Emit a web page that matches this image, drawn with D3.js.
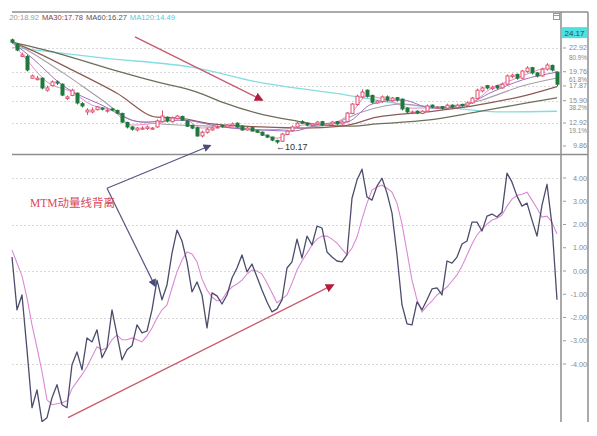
<!DOCTYPE html>
<html>
<head>
<meta charset="utf-8">
<script src="https://cdn.jsdelivr.net/npm/d3@7"></script>
<style>
  body { margin: 0; background: #fff; }
  svg { display: block; }
</style>
</head>
<body>
<script>
'use strict';

// ---- data ----
// daily candles, index 0..109
const openP  = [24.0,23.4,21.8,21.8,18.9,18.7,18.9,17.3,17.9,18.4, 18.1,16.2,16.6,16.9,15.5,14.4,14.4,14.7,14.9,14.5,
                14.8,14.6,14.2,13.0,12.4,12.0,12.1,12.2,12.1,12.4, 13.1,13.7,13.1,13.5,13.8,13.2,12.6,12.3,11.2,11.7,
                12.0,12.3,12.6,12.4,12.6,12.9,12.5,12.0,12.3,11.9, 11.7,11.3,11.05,10.6,10.5,11.4,11.9,12.4,13.1,12.9,
                12.6,12.8,13.1,12.6,12.8,13.1,12.8,13.1,14.2,15.4, 16.4,17.3,16.6,15.6,15.8,16.4,15.9,16.3,16.1,14.9,
                14.3,14.5,14.2,14.5,15.3,15.0,15.1,14.9,15.3,15.0, 15.4,15.3,15.6,16.2,17.2,17.9,17.5,17.9,17.6,18.1,
                19.1,19.4,18.9,19.8,20.3,19.6,19.2,20.1,20.6,19.7];
const closeP = [23.7,22.65,22.0,20.0,19.2,18.9,17.6,17.6,18.4,18.25, 16.65,16.4,17.3,15.6,15.2,14.65,14.65,15.05,14.8,14.65,
                14.65,14.25,13.05,12.4,12.1,12.25,12.25,12.4,12.25,13.2, 13.85,13.2,13.6,13.85,13.3,12.5,12.25,11.2,11.7,12.1,
                12.25,12.4,12.5,12.65,12.8,12.4,12.0,12.25,11.85,11.7, 11.3,11.05,10.65,10.4,11.45,11.85,12.4,12.9,12.9,12.65,
                12.8,13.05,12.65,12.8,13.05,12.8,13.05,14.25,15.45,16.5, 17.05,16.5,15.7,15.85,16.4,16.0,16.25,16.0,14.8,14.4,
                14.4,14.25,14.5,15.2,15.05,15.05,14.9,15.3,15.05,15.3, 15.3,15.6,16.25,17.3,17.6,17.6,17.7,17.6,18.1,19.2,
                19.3,18.9,19.85,20.25,19.6,19.2,20.1,20.65,20.0,18.1];
const highP  = [24.17,23.6,22.3,22.0,19.4,19.2,19.0,17.9,18.6,18.6, 18.2,16.6,17.5,17.0,15.7,14.9,15.0,15.2,15.0,14.9,
                14.9,14.7,14.3,13.1,12.5,12.4,12.5,12.6,12.4,13.4, 14.6,13.8,13.8,14.0,13.9,13.3,12.7,12.4,11.9,12.3,
                12.4,12.6,12.7,12.8,13.0,13.0,12.6,12.4,12.4,12.0, 11.8,11.4,11.1,10.7,11.6,12.0,12.6,13.1,13.3,13.0,
                12.9,13.2,13.2,12.9,13.2,13.2,13.2,14.4,15.6,16.7, 17.4,17.4,16.7,16.0,16.6,16.6,16.4,16.4,16.2,15.0,
                14.6,14.6,14.6,15.4,15.4,15.2,15.2,15.5,15.4,15.5, 15.5,15.8,16.4,17.5,17.8,18.0,17.9,18.0,18.3,19.4,
                19.5,19.5,20.0,20.5,20.4,19.7,20.3,20.9,20.7,19.8];
const lowP   = [23.5,22.5,21.7,19.8,18.8,18.6,17.4,17.1,17.8,18.0, 16.5,16.0,16.5,15.4,15.0,14.0,14.2,14.6,14.6,14.3,
                14.5,14.1,12.9,12.2,11.9,11.8,12.0,12.0,12.0,12.3, 13.0,13.0,13.0,13.4,13.2,12.4,12.1,11.1,11.0,11.5,
                11.9,12.2,12.3,12.3,12.5,12.3,11.9,11.9,11.8,11.6, 11.2,10.9,10.5,10.17,10.4,11.3,11.8,12.3,12.8,12.5,
                12.5,12.7,12.5,12.5,12.7,12.7,12.7,13.0,14.1,15.2, 16.2,16.3,15.5,15.5,15.6,15.8,15.8,15.8,14.6,14.2,
                14.1,14.1,14.1,14.4,14.9,14.8,14.7,14.8,14.9,14.9, 15.1,15.2,15.5,16.1,17.0,17.4,17.3,17.4,17.5,18.0,
                18.9,18.7,18.8,19.6,19.4,19.0,19.1,19.9,19.8,17.8];

// moving averages, sampled [day, price]
const ma5   = [[0,23.7],[3,21.3],[7,18.4],[12,17.05],[16,15.3],[20,14.65],[24,12.65],[30,13.05],[34,13.6],[38,12.25],
               [42,12.5],[48,12.0],[53,10.9],[58,12.65],[64,12.9],[68,14.4],[71,16.5],[75,16.0],[80,14.9],[86,15.05],
               [92,15.7],[96,17.6],[100,18.65],[104,19.7],[107,20.25],[109,19.7]];
const ma10  = [[0,23.7],[4,21.6],[10,18.0],[18,15.3],[26,13.05],[34,13.3],[42,12.4],[50,12.0],[56,11.85],[62,12.8],
               [67,13.05],[72,15.45],[78,16.0],[84,14.9],[90,15.2],[96,17.05],[102,18.65],[109,19.7]];
const ma20  = [[0,23.7],[3,22.65],[10,19.7],[18,16.0],[24,13.3],[30,12.8],[40,12.5],[50,12.0],[57,12.25],[64,12.8],
               [70,14.4],[78,15.45],[86,14.9],[94,16.0],[102,17.85],[109,18.92]];
const ma30  = [[0,23.7],[3,22.9],[12,20.0],[21,16.9],[29,13.7],[33,13.6],[40,12.8],[50,12.4],[58,12.25],[66,12.5],
               [73,13.7],[83,14.4],[93,15.3],[103,16.65],[109,17.78]];
const ma60  = [[0,23.7],[9,22.25],[19,20.25],[29,18.4],[37,17.05],[42,15.7],[49,14.25],[56,13.3],[62,12.65],[68,12.5],
               [73,12.8],[83,13.3],[93,14.4],[103,15.6],[109,16.27]];
const ma120 = [[0,23.0],[18,21.6],[37,20.25],[49,18.4],[67,16.65],[78,15.45],[88,14.9],[98,14.4],[109,14.49]];

const maNames  = ['MA20', 'MA30', 'MA60', 'MA120'];
const maLast   = ['18.92', '17.78', '16.27', '14.49'];

// MTM and its average, one value per day
const mtm = [0.60,-1.67,-1.03,-3.39,-5.88,-5.11,-6.48,-6.31,-5.45,-4.89, -5.75,-5.88,-4.03,-3.48,-4.25,-2.88,-3.05,-2.53,-3.73,-3.30,
             -1.67,-2.75,-3.82,-3.39,-3.22,-2.32,-2.66,-2.58,-1.67,-0.39, -1.24,-0.60,0.77,1.76,1.29,0.39,-0.90,-0.47,-1.03,-2.45,
             -0.94,-1.07,-1.42,-1.03,-0.30,0.13,0.69,-0.04,0.30,-0.26, -0.82,-1.33,-1.76,-1.63,-1.24,0.13,0.39,1.37,0.56,1.50,
             1.12,1.93,1.85,0.82,0.60,0.43,0.39,0.69,3.13,3.91, 4.38,3.18,3.05,3.65,3.99,3.35,2.49,0.69,-1.46,-2.27,
             -2.32,-1.33,-1.67,-1.24,-0.77,-0.73,-1.03,0.43,0.34,0.60, 1.16,1.29,2.10,2.10,1.72,2.36,2.45,2.32,2.53,4.21,
             3.82,3.22,2.79,2.92,2.19,1.50,2.83,3.73,1.97,-1.24];
const mamtm = [0.90,0.34,-0.21,-1.16,-2.32,-3.30,-4.33,-5.54,-5.75,-5.71, -5.67,-5.58,-5.06,-4.76,-4.46,-4.12,-3.69,-3.26,-3.39,-3.30,
               -2.96,-2.75,-2.96,-2.96,-2.88,-2.96,-3.05,-2.79,-2.45,-2.02, -1.67,-1.46,-0.73,-0.04,0.47,0.82,0.73,0.39,-0.34,-0.82,
               -1.12,-1.29,-1.24,-0.90,-0.69,-0.56,-0.39,-0.13,0.04,0.00, -0.13,-0.52,-0.94,-1.37,-1.20,-1.03,-0.52,0.04,0.43,0.77,
               1.12,1.37,1.50,1.50,1.37,1.20,0.94,0.69,0.99,1.46, 2.23,2.92,3.48,3.61,3.69,3.56,3.39,2.92,2.02,0.82,
               -0.39,-1.24,-1.76,-1.50,-1.29,-1.03,-0.86,-0.69,-0.43,-0.17, 0.21,0.69,1.16,1.55,1.80,2.02,2.19,2.27,2.40,2.79,
               3.09,3.26,3.30,3.39,3.05,2.70,2.32,2.36,2.10,1.59];

// axis labels
const priceTicks = [22.92, 19.76, 17.87, 15.90, 12.92, 9.86];
const priceGrid  = [22.92, 19.76, 17.87, 15.90, 12.92];
const fibLabels  = ['80.9%', '61.8%', '38.2%', '19.1%'];
const fibLevels  = [21.7, 18.8, 15.05, 12.0];
const topPrice   = 24.17;
const lowPrice   = 10.17;
const mtmTicks   = [4, 3, 2, 1, 0, -1, -2, -3, -4];
const mtmGrid    = [4, 2, 0, -2, -4];
const noteText   = 'MTM动量线背离';

(function() {
  const W = 597, H = 436;
  const plotL = 10, plotR = 561, axisR = 588;
  const topT = 12, topB = 154.5, botB = 422;
  const axisFont = '"Liberation Sans", Arial, sans-serif';

  const svg = d3.select('body').append('svg')
    .attr('width', W).attr('height', H);

  const x = d3.scaleLinear().domain([0, closeP.length - 1]).range([12, 557]);
  const yP = d3.scaleLinear().domain([9.86, 22.92]).range([146, 48]);
  const yM = d3.scaleLinear().domain([-4, 4]).range([364, 178]);

  const defs = svg.append('defs');
  defs.append('clipPath').attr('id', 'clipTop').append('rect')
    .attr('x', plotL).attr('y', topT).attr('width', plotR - plotL).attr('height', topB - topT);
  defs.append('clipPath').attr('id', 'clipBot').append('rect')
    .attr('x', plotL).attr('y', topB).attr('width', plotR - plotL).attr('height', botB - topB);
  defs.append('clipPath').attr('id', 'clipLeg').append('rect')
    .attr('x', 9).attr('y', 0).attr('width', 540).attr('height', 30);

  // arrow heads
  function marker(id, color, size) {
    defs.append('marker')
      .attr('id', id)
      .attr('viewBox', '0 0 10 10')
      .attr('refX', 8).attr('refY', 5)
      .attr('markerWidth', size).attr('markerHeight', size)
      .attr('markerUnits', 'userSpaceOnUse')
      .attr('orient', 'auto')
      .append('path').attr('d', 'M0,0L10,5L0,10z').attr('fill', color);
  }
  marker('arrRed', '#b0203c', 9);
  marker('arrNavy', '#4a4c7a', 8);

  // grid lines
  const grid = svg.append('g')
    .attr('stroke', '#d8d8d8').attr('stroke-width', 1).attr('stroke-dasharray', '2,2');
  priceGrid.forEach(v => {
    grid.append('line').attr('x1', 12).attr('x2', plotR)
      .attr('y1', Math.round(yP(v)) + 0.5).attr('y2', Math.round(yP(v)) + 0.5);
  });
  mtmGrid.forEach(v => {
    grid.append('line').attr('x1', 12).attr('x2', plotR)
      .attr('y1', Math.round(yM(v)) + 0.5).attr('y2', Math.round(yM(v)) + 0.5);
  });

  // moving averages in the price panel
  const top = svg.append('g').attr('clip-path', 'url(#clipTop)');
  const maLine = d3.line()
    .x(d => x(d[0]))
    .y(d => yP(d[1]))
    .curve(d3.curveMonotoneX);
  [
    [ma120, '#86dde0', 1.3],
    [ma60, '#6d6f58', 1.3],
    [ma30, '#8e5a52', 1.2],
    [ma20, '#a4a0a4', 1.1],
    [ma10, '#a46cc8', 1],
    [ma5, '#e58cc6', 1]
  ].forEach(([pts, col, w]) => {
    top.append('path').datum(pts)
      .attr('d', maLine)
      .attr('fill', 'none')
      .attr('stroke', col)
      .attr('stroke-width', w);
  });

  // candles
  closeP.forEach((c, i) => {
    const o = openP[i];
    const up = c >= o;
    const col = up ? '#e0506e' : '#1e7a3c';
    const cx = Math.round(x(i)) + 0.5;
    top.append('line')
      .attr('x1', cx).attr('x2', cx)
      .attr('y1', yP(highP[i])).attr('y2', yP(lowP[i]))
      .attr('stroke', col).attr('stroke-width', 1);
    const yTop = yP(Math.max(o, c));
    const hgt = Math.max(1, Math.abs(yP(o) - yP(c)));
    top.append('rect')
      .attr('x', cx - 1.5).attr('y', yTop)
      .attr('width', 3).attr('height', hgt)
      .attr('fill', up ? '#fff' : col)
      .attr('stroke', col).attr('stroke-width', 1);
  });

  // MTM panel
  const bot = svg.append('g').attr('clip-path', 'url(#clipBot)');
  const mLine = d3.line().x((d, i) => x(i)).y(d => yM(d));
  bot.append('path').datum(mamtm)
    .attr('d', mLine).attr('fill', 'none')
    .attr('stroke', '#d98ad4').attr('stroke-width', 1.1);
  bot.append('path').datum(mtm)
    .attr('d', mLine).attr('fill', 'none')
    .attr('stroke', '#4b4d6c').attr('stroke-width', 1.3)
    .attr('stroke-linejoin', 'round');

  // frame
  const frame = svg.append('g').attr('stroke', '#8e8e8e').attr('stroke-width', 1.5).attr('fill', 'none');
  frame.append('line').attr('x1', 12).attr('x2', axisR).attr('y1', topT).attr('y2', topT);
  frame.append('line').attr('x1', 12).attr('x2', axisR).attr('y1', topB).attr('y2', topB);
  frame.append('line').attr('x1', plotR).attr('x2', plotR).attr('y1', topT).attr('y2', botB);
  frame.append('line').attr('x1', axisR).attr('x2', axisR).attr('y1', topT).attr('y2', botB);

  // little window icon
  svg.append('rect').attr('x', 553.5).attr('y', 13.5).attr('width', 6).attr('height', 6)
    .attr('fill', '#fff').attr('stroke', '#9a9a9a');
  svg.append('line').attr('x1', 553.5).attr('x2', 559.5).attr('y1', 15.5).attr('y2', 15.5)
    .attr('stroke', '#9a9a9a');

  // right axis labels
  const lab = svg.append('g')
    .style('font-family', axisFont)
    .style('font-size', '7.2px')
    .attr('fill', '#8a8a8a')
    .attr('text-anchor', 'end');
  const tick = svg.append('g').attr('stroke', '#9a9a9a');
  priceTicks.forEach(v => {
    lab.append('text').attr('x', 587).attr('y', yP(v) + 2).text(v.toFixed(2));
    tick.append('line').attr('x1', 563).attr('x2', 566).attr('y1', yP(v)).attr('y2', yP(v));
  });
  fibLabels.forEach((t, i) => {
    lab.append('text').attr('x', 587).attr('y', yP(fibLevels[i]) + 3)
      .style('font-size', '6.4px').text(t);
  });
  mtmTicks.forEach(v => {
    lab.append('text').attr('x', 587).attr('y', yM(v) + 2.5).text(v.toFixed(2));
    tick.append('line').attr('x1', 563).attr('x2', 566).attr('y1', yM(v)).attr('y2', yM(v));
  });

  // highlighted top price
  const ty = yP(topPrice) - 6;
  svg.append('rect').attr('x', 562).attr('y', ty - 5.5).attr('width', 25).attr('height', 11)
    .attr('fill', '#4fe0e0');
  svg.append('text').attr('x', 574.5).attr('y', ty + 3)
    .attr('text-anchor', 'middle')
    .style('font-family', axisFont).style('font-size', '8px')
    .attr('fill', '#1f4f55').text(topPrice.toFixed(2));

  // legend (first item is cut by the left edge, as in the source)
  const leg = svg.append('g').attr('clip-path', 'url(#clipLeg)');
  const legCols = ['#9c9c9c', '#8a4040', '#555555', '#58cbd8'];
  let lx = -2;
  maNames.forEach((n, i) => {
    const t = leg.append('text').attr('x', lx).attr('y', 20)
      .style('font-family', axisFont).style('font-size', '7.6px')
      .attr('fill', legCols[i]).text(n + ':' + maLast[i]);
    lx += t.node().getComputedTextLength() + 3;
  });

  // low marker
  svg.append('text').attr('x', x(53) - 1).attr('y', yP(lowPrice) + 6)
    .style('font-family', axisFont).style('font-size', '9px')
    .attr('fill', '#333').text('\u2190' + lowPrice.toFixed(2));

  // annotations
  svg.append('line')
    .attr('x1', x(24.6)).attr('y1', yP(24.39))
    .attr('x2', x(50)).attr('y2', yP(15.99))
    .attr('stroke', '#c85a70').attr('stroke-width', 1.4)
    .attr('marker-end', 'url(#arrRed)');
  svg.append('line')
    .attr('x1', x(11.2)).attr('y1', yM(-6.31))
    .attr('x2', x(64.2)).attr('y2', yM(-0.6))
    .attr('stroke', '#cc5c6e').attr('stroke-width', 1.4)
    .attr('marker-end', 'url(#arrRed)');
  svg.append('line')
    .attr('x1', x(19)).attr('y1', yM(3.56))
    .attr('x2', x(39.6)).attr('y2', yP(9.9))
    .attr('stroke', '#55577e').attr('stroke-width', 1.2)
    .attr('marker-end', 'url(#arrNavy)');
  svg.append('line')
    .attr('x1', x(19)).attr('y1', yM(3.56))
    .attr('x2', x(28.6)).attr('y2', yM(-0.64))
    .attr('stroke', '#55577e').attr('stroke-width', 1.2)
    .attr('marker-end', 'url(#arrNavy)');

  svg.append('text')
    .attr('x', x(3.6)).attr('y', yM(2.75))
    .style('font-family', '"Liberation Serif", "Noto Sans CJK SC", serif')
    .style('font-size', '11.5px')
    .attr('fill', '#d8475c')
    .text(noteText);
})();
</script>
</body>
</html>
